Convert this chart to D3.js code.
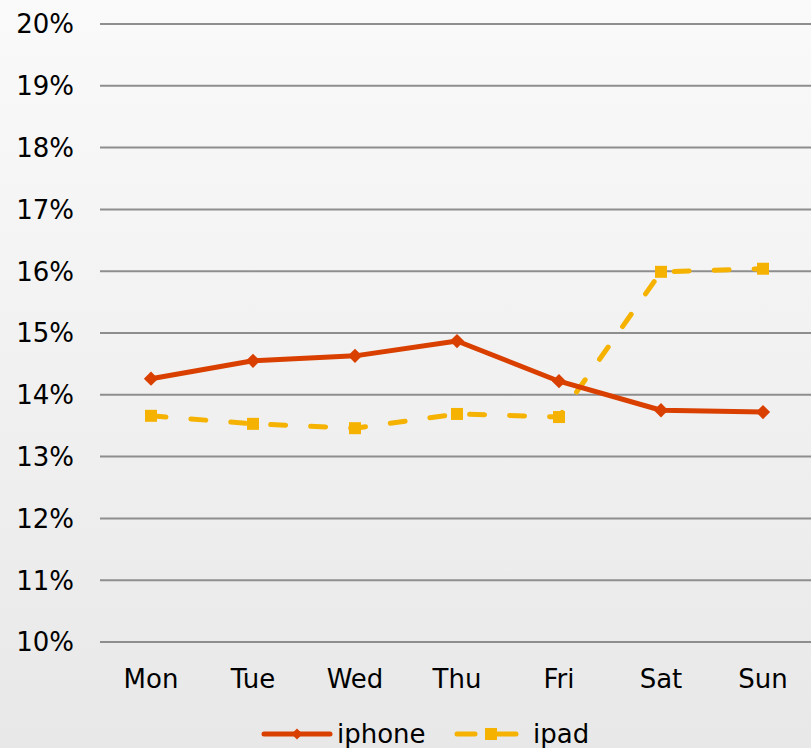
<!DOCTYPE html>
<html lang="en">
<head>
<meta charset="utf-8">
<title>iphone vs ipad</title>
<script src="https://d3js.org/d3.v7.min.js"></script>
<style>
  html, body { margin: 0; padding: 0; }
  body { width: 811px; height: 748px; overflow: hidden; }
  .axis text { font-family: "DejaVu Sans", Verdana, sans-serif; font-size: 26px; fill: #000; }
  .legend text { font-family: "DejaVu Sans", Verdana, sans-serif; font-size: 26px; fill: #000; }
</style>
</head>
<body>
<div id="chart"></div>
<script>
// data
var days = ["Mon", "Tue", "Wed", "Thu", "Fri", "Sat", "Sun"];
var iphone = [14.26, 14.55, 14.63, 14.87, 14.22, 13.75, 13.72];
var ipad = [13.66, 13.53, 13.46, 13.69, 13.64, 15.99, 16.04];
var yTicks = [10, 11, 12, 13, 14, 15, 16, 17, 18, 19, 20];

var W = 811, H = 748;

var svg = d3.select("#chart").append("svg")
    .attr("width", W)
    .attr("height", H);

// background gradient
var defs = svg.append("defs");
var grad = defs.append("linearGradient")
    .attr("id", "bg")
    .attr("x1", 0).attr("y1", 0).attr("x2", 0).attr("y2", 1);
grad.append("stop").attr("offset", "0%").attr("stop-color", "#fafafa");
grad.append("stop").attr("offset", "100%").attr("stop-color", "#e8e8e8");
svg.append("rect").attr("width", W).attr("height", H).attr("fill", "url(#bg)");

var x = d3.scaleBand().domain(days).range([100, 814]);
var y = d3.scaleLinear().domain([10, 20]).range([642, 24]);

// gridlines
svg.append("g")
    .selectAll("line")
    .data(yTicks)
    .enter().append("line")
    .attr("x1", 100).attr("x2", W)
    .attr("y1", d => y(d)).attr("y2", d => y(d))
    .attr("stroke", "#8e8e8e")
    .attr("stroke-width", 2);

// y axis labels
svg.append("g")
    .attr("class", "axis")
    .selectAll("text")
    .data(yTicks)
    .enter().append("text")
    .attr("x", 74)
    .attr("y", d => y(d))
    .attr("dy", "0.36em")
    .attr("text-anchor", "end")
    .text(d => d + "%");

// x axis labels
svg.append("g")
    .attr("class", "axis")
    .selectAll("text")
    .data(days)
    .enter().append("text")
    .attr("x", d => x(d) + x.bandwidth() / 2)
    .attr("y", 688)
    .attr("text-anchor", "middle")
    .text(d => d);

var line = d3.line()
    .x((d, i) => x(days[i]) + x.bandwidth() / 2)
    .y(d => y(d));

var RED = "#d94000", YEL = "#f5b200";

// ipad (dashed, squares)
svg.append("path")
    .datum(ipad)
    .attr("d", line)
    .attr("fill", "none")
    .attr("stroke", YEL)
    .attr("stroke-width", 5)
    .attr("stroke-linecap", "round")
    .attr("stroke-dasharray", "15 25");

svg.append("g")
    .selectAll("rect")
    .data(ipad)
    .enter().append("rect")
    .attr("x", (d, i) => x(days[i]) + x.bandwidth() / 2 - 6)
    .attr("y", d => y(d) - 6)
    .attr("width", 12).attr("height", 12)
    .attr("fill", YEL);

// iphone (solid, diamonds)
svg.append("path")
    .datum(iphone)
    .attr("d", line)
    .attr("fill", "none")
    .attr("stroke", RED)
    .attr("stroke-width", 5)
    .attr("stroke-linejoin", "round");

var diamond = d3.symbol().type(d3.symbolDiamond2).size(130);
svg.append("g")
    .selectAll("path")
    .data(iphone)
    .enter().append("path")
    .attr("d", diamond)
    .attr("transform", (d, i) => "translate(" + (x(days[i]) + x.bandwidth() / 2) + "," + y(d) + ")")
    .attr("fill", RED);

// legend
var lg = svg.append("g").attr("class", "legend");
var ly = 734;
lg.append("line")
    .attr("x1", 264).attr("x2", 330).attr("y1", ly).attr("y2", ly)
    .attr("stroke", RED).attr("stroke-width", 5).attr("stroke-linecap", "round");
lg.append("path")
    .attr("d", d3.symbol().type(d3.symbolDiamond2).size(80))
    .attr("transform", "translate(297," + ly + ")")
    .attr("fill", RED);
lg.append("text").attr("x", 337).attr("y", ly).attr("dy", "0.36em").text("iphone");

lg.append("line")
    .attr("x1", 457).attr("x2", 475).attr("y1", ly).attr("y2", ly)
    .attr("stroke", YEL).attr("stroke-width", 5).attr("stroke-linecap", "round");
lg.append("line")
    .attr("x1", 493).attr("x2", 516).attr("y1", ly).attr("y2", ly)
    .attr("stroke", YEL).attr("stroke-width", 5).attr("stroke-linecap", "round");
lg.append("rect")
    .attr("x", 485).attr("y", ly - 6).attr("width", 12).attr("height", 12)
    .attr("fill", YEL);
lg.append("text").attr("x", 533).attr("y", ly).attr("dy", "0.36em").text("ipad");
</script>
</body>
</html>
